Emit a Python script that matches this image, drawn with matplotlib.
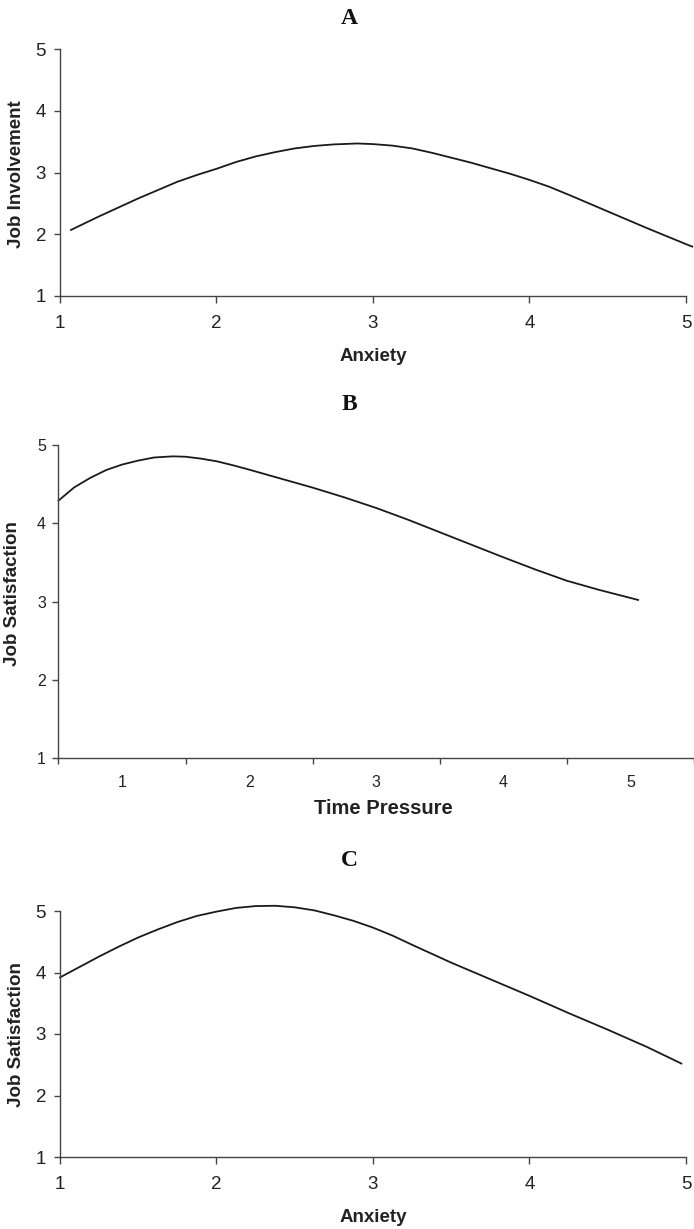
import matplotlib
matplotlib.use("Agg")
import matplotlib.pyplot as plt
from matplotlib import font_manager

# ---------------- data ----------------
a_x = [1.07, 1.25, 1.5, 1.75, 1.875, 2.0, 2.125, 2.25, 2.375, 2.5, 2.625, 2.75, 2.9, 3.0, 3.125,
       3.25, 3.375, 3.5, 3.625, 3.75, 3.875, 4.0, 4.125, 4.25, 4.5, 4.75, 5.0, 5.04]
a_y = [2.07, 2.29, 2.58, 2.85, 2.96, 3.06, 3.17, 3.26, 3.33, 3.39, 3.43, 3.455, 3.47, 3.46, 3.435,
       3.39, 3.32, 3.24, 3.16, 3.07, 2.98, 2.88, 2.77, 2.64, 2.37, 2.10, 1.84, 1.80]

b_x = [0.5, 0.625, 0.75, 0.875, 1.0, 1.125, 1.25, 1.4, 1.5, 1.625, 1.75, 1.875, 2.0, 2.25, 2.5,
       2.75, 3.0, 3.25, 3.5, 3.75, 4.0, 4.25, 4.5, 4.75, 5.06]
b_y = [4.29, 4.46, 4.58, 4.68, 4.75, 4.80, 4.84, 4.855, 4.85, 4.825, 4.79, 4.74, 4.685, 4.57, 4.455,
       4.33, 4.195, 4.045, 3.885, 3.725, 3.565, 3.41, 3.265, 3.15, 3.02]

c_x = [1.0, 1.125, 1.25, 1.375, 1.5, 1.625, 1.75, 1.875, 2.0, 2.125, 2.25, 2.375, 2.5, 2.625,
       2.75, 2.875, 3.0, 3.125, 3.25, 3.5, 3.75, 4.0, 4.25, 4.5, 4.75, 4.97]
c_y = [3.92, 4.09, 4.26, 4.42, 4.57, 4.70, 4.82, 4.92, 4.99, 5.05, 5.08, 5.085, 5.06, 5.01,
       4.93, 4.84, 4.73, 4.60, 4.45, 4.16, 3.89, 3.62, 3.34, 3.07, 2.79, 2.52]

y_ticks = [1, 2, 3, 4, 5]
x_ticks = [1, 2, 3, 4, 5]
b_bound_ticks = [0.5, 1.5, 2.5, 3.5, 4.5, 5.5]

titles = ["A", "B", "C"]
x_labels = ["Anxiety", "Time Pressure", "Anxiety"]
y_labels = ["Job Involvement", "Job Satisfaction", "Job Satisfaction"]

# ---------------- fonts ----------------
names = {f.name for f in font_manager.fontManager.ttflist}
narrow = "Liberation Sans Narrow" if "Liberation Sans Narrow" in names else "Liberation Sans"
SANS = "Liberation Sans"
SERIF = "Liberation Serif"

W, H = 694, 1229
fig = plt.figure(figsize=(W / 100, H / 100), dpi=100)

def fx(px):
    return px / W

def fy(py):
    return 1 - py / H

def make_axes(left, right, top, bottom):
    return fig.add_axes([fx(left), fy(bottom), fx(right - left), (bottom - top) / H])

SPINE = "#444444"
LINE = "#1a1a1a"

def style(ax, lsize):
    for s in ["top", "right"]:
        ax.spines[s].set_visible(False)
    for s in ["left", "bottom"]:
        ax.spines[s].set_color(SPINE)
        ax.spines[s].set_linewidth(1.0)
    ax.tick_params(colors=SPINE, labelcolor="#222222", width=1.0)
    for lab in ax.get_xticklabels() + ax.get_yticklabels():
        lab.set_fontfamily(narrow)
        lab.set_fontsize(lsize)

# ---------------- Panel A ----------------
axA = make_axes(60, 686, 49, 296)
axA.plot(a_x, a_y, color=LINE, lw=1.3, clip_on=False, solid_joinstyle="round")
axA.set_xlim(1, 5)
axA.set_ylim(1, 5)
axA.set_xticks(x_ticks)
axA.set_yticks(y_ticks)
axA.tick_params(axis="y", length=4, pad=6)
axA.tick_params(axis="x", length=5, pad=9)
style(axA, 13.5)

# ---------------- Panel B ----------------
axB = make_axes(58.5, 694, 445, 758)
axB.plot(b_x, b_y, color=LINE, lw=1.3, clip_on=False, solid_joinstyle="round")
axB.set_xlim(0.5, 5.5)
axB.set_ylim(1, 5)
axB.set_xticks(b_bound_ticks)
axB.set_xticklabels([])
axB.set_xticks(x_ticks, minor=True)
axB.set_xticklabels([str(v) for v in x_ticks], minor=True)
axB.tick_params(axis="x", which="major", length=4)
axB.tick_params(axis="x", which="minor", length=0, pad=12)
axB.set_yticks(y_ticks)
axB.tick_params(axis="y", length=4, pad=5)
style(axB, 11.5)
for lab in axB.get_xticklabels(minor=True):
    lab.set_fontfamily(narrow)
    lab.set_fontsize(11.5)
    lab.set_color("#222222")

# ---------------- Panel C ----------------
axC = make_axes(60, 686, 911, 1157)
axC.plot(c_x, c_y, color=LINE, lw=1.3, clip_on=False, solid_joinstyle="round")
axC.set_xlim(1, 5)
axC.set_ylim(1, 5)
axC.set_xticks(x_ticks)
axC.set_yticks(y_ticks)
axC.tick_params(axis="y", length=4, pad=6)
axC.tick_params(axis="x", length=5, pad=9)
style(axC, 13.5)

# ---------------- titles & labels ----------------
title_y = [18, 405, 860]
xlab_pos = [(373, 357), (383, 808), (373, 1217)]
ylab_pos = [(17, 174), (13, 594), (17, 1035)]
xlab_size = [13.5, 14.5, 13.5]

for t, ty in zip(titles, title_y):
    fig.text(fx(349), fy(ty), t, family=SERIF, weight="bold", fontsize=17,
             ha="center", va="center", color="#111111")

for lab, (px, py), sz in zip(x_labels, xlab_pos, xlab_size):
    fig.text(fx(px), fy(py), lab, family=SANS, weight="bold", fontsize=sz,
             ha="center", va="center", color="#222222")

for lab, (px, py) in zip(y_labels, ylab_pos):
    fig.text(fx(px), fy(py), lab, family=SANS, weight="bold", fontsize=13.5,
             ha="center", va="center", rotation=90, color="#222222")

fig.savefig("out.png", dpi=100)
